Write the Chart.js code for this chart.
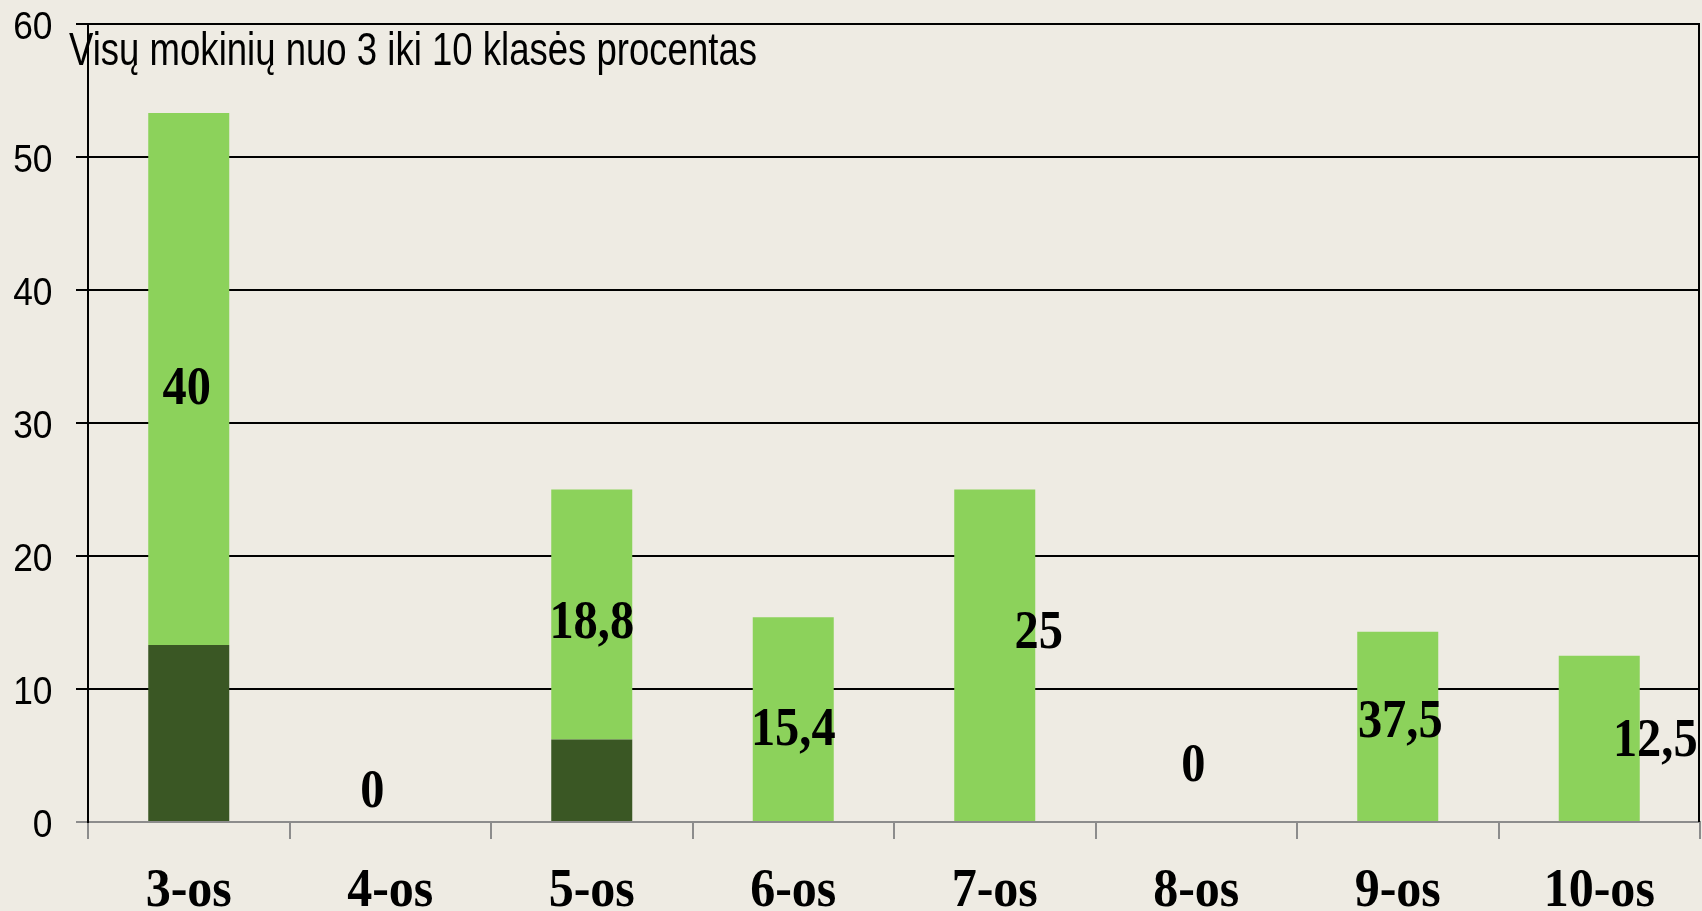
<!DOCTYPE html>
<html>
<head>
<meta charset="utf-8">
<script src="https://cdn.jsdelivr.net/npm/chart.js@4"></script>
<style>
html,body{margin:0;padding:0;background:#eeebe3;overflow:hidden;}
#wrap{width:1702px;height:911px;}
</style>
</head>
<body>
<div id="wrap"><canvas id="c" width="1702" height="911"></canvas></div>
<script>
// ---- data ----
const categories = ['3-os', '4-os', '5-os', '6-os', '7-os', '8-os', '9-os', '10-os'];
const darkValues = [13.3, 0, 6.2, 0, 0, 0, 0, 0];
const lightValues = [40, 0, 18.8, 15.4, 25, 0, 14.3, 12.5];
const valueLabels = ['40', '0', '18,8', '15,4', '25', '0', '37,5', '12,5'];
const yMin = 0, yMax = 60, yStep = 10;
const chartTitle = 'Visų mokinių nuo 3 iki 10 klasės procentas';

// ---- label layout (positions only, not data) ----
const labelAnchorY = [31.4, 1.1, 13.8, 5.8, 13.1, 3.1, 6.4, 5.0]; // baseline in value units
const labelDx = [-2, -18, 0, 0, 44, -3, 2.5, 56];                  // px offset from category centre

const BG = '#eeebe3';
const GREY = '#8c8c8c';
const SERIF = '"Liberation Serif", "Times New Roman", serif';
const SANS = '"Liberation Sans", Arial, sans-serif';

function drawScaledText(ctx, text, x, y, sx, align) {
  ctx.save();
  ctx.translate(x, y);
  ctx.scale(sx, 1);
  ctx.textAlign = align;
  ctx.fillText(text, 0, 0);
  ctx.restore();
}

const bgPlugin = {
  id: 'bg',
  beforeDraw(chart) {
    const ctx = chart.ctx;
    ctx.save();
    ctx.fillStyle = BG;
    ctx.fillRect(0, 0, chart.width, chart.height);
    ctx.restore();
  }
};

const overlayPlugin = {
  id: 'overlay',
  afterDraw(chart) {
    const ctx = chart.ctx;
    const xs = chart.scales.x, ys = chart.scales.y;
    const area = chart.chartArea;
    ctx.save();
    // right border
    ctx.strokeStyle = '#000';
    ctx.lineWidth = 2;
    ctx.beginPath();
    ctx.moveTo(area.right - 1, area.top);
    ctx.lineTo(area.right - 1, area.bottom);
    ctx.stroke();

    ctx.fillStyle = '#000';
    ctx.textBaseline = 'alphabetic';

    // y tick labels
    ctx.font = '38px ' + SANS;
    ys.ticks.forEach(t => {
      const y = ys.getPixelForValue(t.value);
      drawScaledText(ctx, String(t.value), 52.5, y + 15, 0.93, 'right');
    });

    // x category labels
    ctx.font = 'bold 55px ' + SERIF;
    categories.forEach((c, i) => {
      drawScaledText(ctx, c, xs.getPixelForValue(i), 906, 0.91, 'center');
    });

    // value labels
    ctx.font = 'bold 55px ' + SERIF;
    valueLabels.forEach((t, i) => {
      const x = xs.getPixelForValue(i) + labelDx[i];
      const y = ys.getPixelForValue(labelAnchorY[i]);
      drawScaledText(ctx, t, x, y, 0.88, 'center');
    });

    // title
    ctx.font = '47px ' + SANS;
    const w = ctx.measureText(chartTitle).width;
    drawScaledText(ctx, chartTitle, 69, 65, 688 / w, 'left');
    ctx.restore();
  }
};

new Chart(document.getElementById('c'), {
  type: 'bar',
  data: {
    labels: categories,
    datasets: [
      { label: 'dark', data: darkValues, backgroundColor: '#3a5724', borderWidth: 0 },
      { label: 'light', data: lightValues, backgroundColor: '#8cd25b', borderWidth: 0 }
    ]
  },
  options: {
    responsive: false,
    animation: false,
    devicePixelRatio: 1,
    layout: { padding: { top: 24, right: 2, left: 0, bottom: 0 } },
    plugins: { legend: { display: false }, tooltip: { enabled: false }, title: { display: false } },
    datasets: { bar: { categoryPercentage: 1, barPercentage: 0.402 } },
    scales: {
      x: {
        stacked: true,
        afterFit(s) { s.height = 89; },
        grid: { offset: true, drawOnChartArea: false, color: GREY, lineWidth: 2, tickLength: 17 },
        border: { color: GREY, width: 2 },
        ticks: { display: false, autoSkip: false, maxRotation: 0 }
      },
      y: {
        stacked: true,
        min: yMin, max: yMax,
        afterFit(s) { s.width = 88; },
        grid: {
          color: c => (c.tick && c.tick.value === 0) ? GREY : '#000',
          lineWidth: 2,
          tickLength: 12
        },
        border: { color: '#000', width: 2 },
        ticks: { display: false, stepSize: yStep }
      }
    }
  },
  plugins: [bgPlugin, overlayPlugin]
});
</script>
</body>
</html>
